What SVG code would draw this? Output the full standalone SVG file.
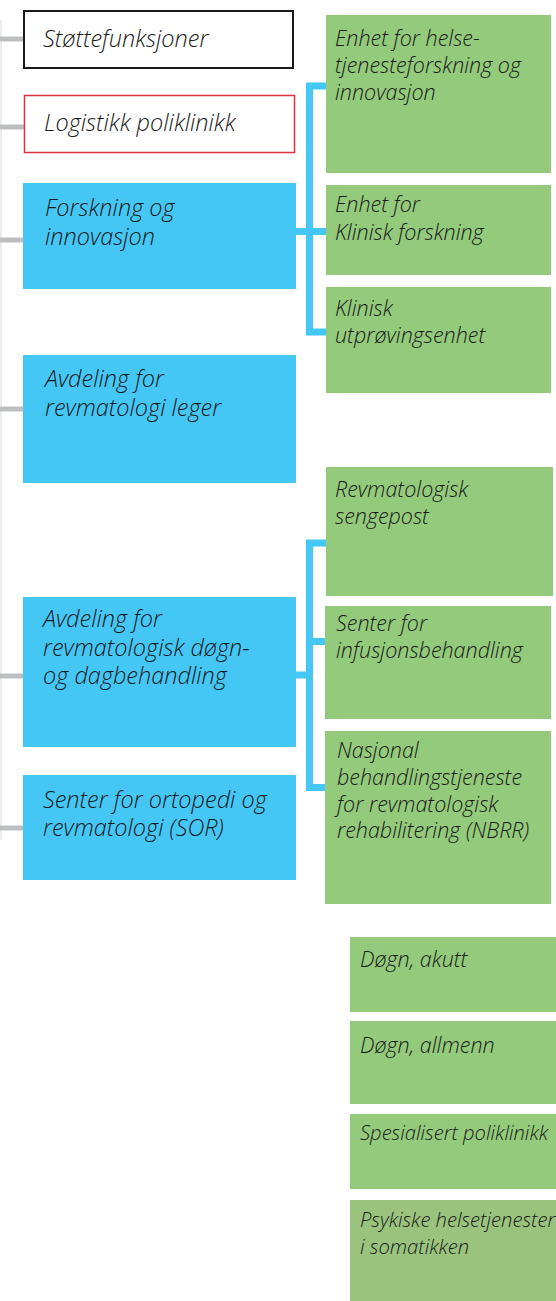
<svg xmlns="http://www.w3.org/2000/svg" width="556" height="1301" viewBox="0 0 556 1301">
<style>
  text { font-family: "Open Sans", "Noto Sans", "Liberation Sans", sans-serif; font-style: italic; font-weight: 300; fill: #1a1a1a; }
  .l { font-size: 23.5px; }
  .s { font-size: 21.5px; }
  .xs { font-size: 20.2px; }
  .blue { fill: #45C7F6; }
  .green { fill: #93CA7B; }
  .green2 { fill: #9AC47E; }
  .gray { stroke: #BDBEC0; stroke-width: 5; fill: none; }
  .bl { stroke: #45C7F6; stroke-width: 7; fill: none; }
</style>
<rect width="556" height="1301" fill="#ffffff"/>
<g id="connectors">
  <line x1="1" y1="20" x2="1" y2="840" stroke="#E4E4E4" stroke-width="1.5"/>
  <line class="gray" x1="0" y1="39" x2="24" y2="39"/>
  <line class="gray" x1="0" y1="127" x2="24" y2="127"/>
  <line class="gray" x1="0" y1="240" x2="24" y2="240"/>
  <line class="gray" x1="0" y1="409" x2="24" y2="409"/>
  <line class="gray" x1="0" y1="676" x2="24" y2="676"/>
  <line class="gray" x1="0" y1="828" x2="24" y2="828"/>
  <polyline class="bl" points="326,86 309.5,86 309.5,332 326,332"/>
  <line class="bl" x1="295" y1="231.5" x2="326" y2="231.5"/>
  <polyline class="bl" points="326,543 309.5,543 309.5,787.5 326,787.5"/>
  <line class="bl" x1="309.5" y1="641.5" x2="326" y2="641.5"/>
  <line class="bl" x1="295" y1="675" x2="309.5" y2="675"/>
</g>
<g id="stottefunksjoner">
  <rect x="24" y="11" width="269" height="57" fill="#ffffff" stroke="#1a1a1a" stroke-width="2"/>
  <text class="l" x="43" y="47">Støttefunksjoner</text>
</g>
<g id="logistikk">
  <rect x="24.5" y="95.5" width="270" height="57" fill="#ffffff" stroke="#E0323C" stroke-width="1.5"/>
  <text class="l" x="44" y="131">Logistikk poliklinikk</text>
</g>
<g id="forskning">
  <rect class="blue" x="23" y="183" width="273" height="106"/>
  <text class="l" x="45" y="216">Forskning og</text>
  <text class="l" x="45" y="245">innovasjon</text>
</g>
<g id="revmatologi-leger">
  <rect class="blue" x="23" y="355" width="273" height="128"/>
  <text class="l" x="45" y="387">Avdeling for</text>
  <text class="l" x="45" y="416">revmatologi leger</text>
</g>
<g id="dogn-dagbehandling">
  <rect class="blue" x="23" y="597" width="273" height="150"/>
  <text class="l" x="43" y="627">Avdeling for</text>
  <text class="l" x="43" y="656">revmatologisk døgn-</text>
  <text class="l" x="43" y="684">og dagbehandling</text>
</g>
<g id="sor">
  <rect class="blue" x="23" y="775" width="273" height="105"/>
  <text class="l" x="43" y="808">Senter for ortopedi og</text>
  <text class="l" x="43" y="836">revmatologi (SOR)</text>
</g>
<g id="helsetjenesteforskning">
  <rect class="green" x="326" y="15" width="225" height="158"/>
  <text class="s" x="335" y="46">Enhet for helse-</text>
  <text class="s" x="335" y="73">tjenesteforskning og</text>
  <text class="s" x="335" y="100">innovasjon</text>
</g>
<g id="klinisk-forskning">
  <rect class="green" x="326" y="185" width="225" height="90"/>
  <text class="s" x="335" y="212">Enhet for</text>
  <text class="s" x="335" y="240">Klinisk forskning</text>
</g>
<g id="utprovingsenhet">
  <rect class="green" x="326" y="287" width="225" height="106"/>
  <text class="s" x="335" y="316">Klinisk</text>
  <text class="s" x="335" y="343">utprøvingsenhet</text>
</g>
<g id="sengepost">
  <rect class="green" x="326" y="467" width="227" height="129"/>
  <text class="s" x="335" y="497">Revmatologisk</text>
  <text class="s" x="335" y="524">sengepost</text>
</g>
<g id="infusjon">
  <rect class="green" x="325" y="606" width="226" height="113"/>
  <text class="s" x="336" y="631">Senter for</text>
  <text class="s" x="336" y="658">infusjonsbehandling</text>
</g>
<g id="nbrr">
  <rect class="green" x="325" y="731" width="226" height="173"/>
  <text class="s" x="337" y="758">Nasjonal</text>
  <text class="s" x="337" y="785">behandlingstjeneste</text>
  <text class="s" x="337" y="812">for revmatologisk</text>
  <text class="s" x="337" y="838">rehabilitering (NBRR)</text>
</g>
<g id="dogn-akutt">
  <rect class="green" x="350" y="937" width="206" height="75"/>
  <text class="s" x="360" y="967">Døgn, akutt</text>
</g>
<g id="dogn-allmenn">
  <rect class="green" x="350" y="1021" width="206" height="83"/>
  <text class="s" x="360" y="1053">Døgn, allmenn</text>
</g>
<g id="spesialisert">
  <rect class="green" x="350" y="1114" width="206" height="75"/>
  <text class="xs" x="360" y="1140">Spesialisert poliklinikk</text>
</g>
<g id="psykiske">
  <rect class="green2" x="350" y="1200" width="206" height="101"/>
  <text class="xs" x="360" y="1227">Psykiske helsetjenester</text>
  <text class="xs" x="360" y="1254">i somatikken</text>
</g>
</svg>
